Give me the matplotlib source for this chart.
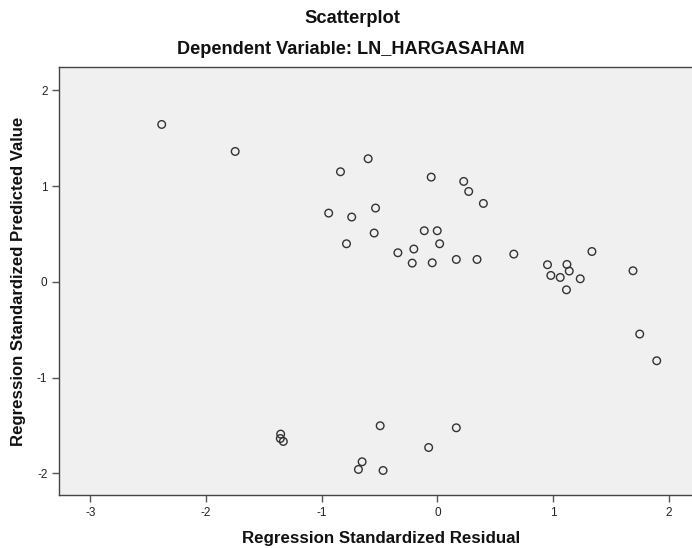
import matplotlib.pyplot as plt

plt.rcParams['font.family'] = ['Liberation Sans', 'DejaVu Sans']
plt.rcParams['axes.unicode_minus'] = False

# residuals (x) and predicted values (y)
resid = [-2.382, -1.747, -0.598, -0.837, -0.939, -0.740, -0.534, -0.546, -0.785,
         -0.053, 0.228, 0.271, 0.398, -0.113, -0.001, 0.020, -0.341, -0.203,
         -0.217, -0.044, 0.164, 0.343, 0.661, 1.336, 0.952, 1.120, 1.140,
         0.981, 1.062, 1.235, 1.116, 1.691, 1.749, 1.896, -0.494, 0.164,
         -0.075, -0.469, -1.354, -1.357, -1.331, -0.650, -0.682]
pred = [1.643, 1.361, 1.285, 1.149, 0.717, 0.676, 0.770, 0.509, 0.397,
        1.093, 1.048, 0.943, 0.818, 0.533, 0.533, 0.397, 0.303, 0.342,
        0.195, 0.198, 0.233, 0.233, 0.289, 0.316, 0.178, 0.181, 0.112,
        0.066, 0.045, 0.031, -0.084, 0.115, -0.546, -0.825, -1.504, -1.525,
        -1.731, -1.971, -1.591, -1.637, -1.668, -1.880, -1.960]

xticks = [-3, -2, -1, 0, 1, 2]
yticks = [-2, -1, 0, 1, 2]

fig = plt.figure(figsize=(6.92, 5.48), dpi=100)
fig.patch.set_facecolor('white')
ax = fig.add_axes([0.0857, 0.0962, 0.918, 0.781])
ax.set_facecolor('#f0f0f0')

ax.scatter(resid, pred, s=30, facecolors='none', edgecolors='#333333',
           linewidths=1.0, zorder=3)

ax.set_xlim(-3.267, 2.223)
ax.set_ylim(-2.230, 2.240)
ax.set_xticks(xticks)
ax.set_yticks(yticks)
ax.tick_params(direction='out', length=5, width=1, colors='#555555',
               labelsize=8.5, labelcolor='#222222')

for side in ['left', 'bottom', 'top']:
    ax.spines[side].set_color('#444444')
    ax.spines[side].set_linewidth(1.0)
ax.spines['right'].set_visible(False)

ax.set_xlabel('Regression Standardized Residual', fontsize=12.2,
              fontweight='bold', color='#111111', va='center')
ax.set_ylabel('Regression Standardized Predicted Value', fontsize=12.1,
              fontweight='bold', color='#111111', va='center')
ax.xaxis.set_label_coords(0.506, -0.100)
ax.yaxis.set_label_coords(-0.065, 0.5)

fig.text(0.509, 0.967, 'Scatterplot', ha='center', va='center',
         fontsize=13.2, fontweight='bold', color='#111111')
fig.text(0.507, 0.909, 'Dependent Variable: LN_HARGASAHAM', ha='center',
         va='center', fontsize=13.1, fontweight='bold', color='#111111')

fig.savefig('out.png', dpi=100)
